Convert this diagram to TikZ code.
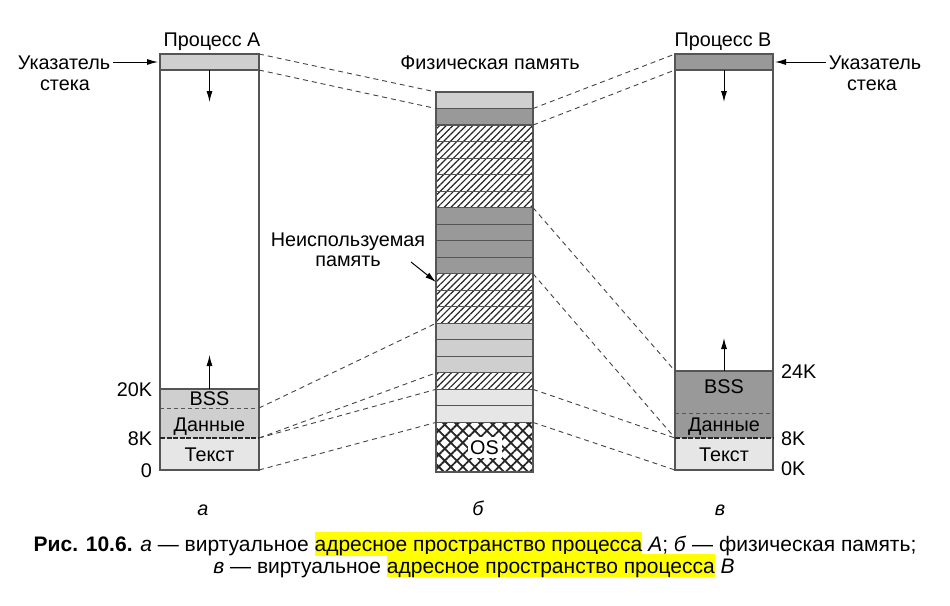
\documentclass[tikz,border=0pt]{standalone}
\usepackage{fontspec}
\setmainfont{Liberation Sans}
\usetikzlibrary{patterns.meta,arrows.meta}
\definecolor{lgray}{HTML}{CFCFCF}
\definecolor{dgray}{HTML}{999999}
\definecolor{vlgray}{HTML}{E6E6E6}
\definecolor{edgec}{HTML}{555555}
\definecolor{connc}{HTML}{444444}
\definecolor{hly}{HTML}{FFFF00}
\newcommand\hlword[1]{{\setlength{\fboxsep}{0pt}\colorbox{hly}{\rule[-1.5pt]{0pt}{21pt}#1}}}
\begin{document}
\begin{tikzpicture}[x=1pt,y=-1pt,
  every node/.style={font=\fontsize{19.8}{22}\selectfont, inner sep=0pt, outer sep=0pt},
  capfont/.style={font=\fontsize{21}{24}\selectfont},
  blk/.style={draw=edgec, line width=1.1pt, minimum width=97pt, minimum height=16.52pt, anchor=north west},
  lblk/.style={blk, fill=lgray},
  dblk/.style={blk, fill=dgray},
  tblk/.style={blk, fill=vlgray},
  hblk/.style={blk, pattern={Lines[angle=45,distance=4.7pt,line width=1.2pt]}, pattern color=black!85},
  colseg/.style={anchor=north west, inner sep=0pt},
  edgeline/.style={draw=edgec, line width=1.2pt},
  sepdash/.style={draw=edgec, line width=1pt, dash pattern=on 4pt off 3pt},
  sepdark/.style={draw=black!85, line width=1.2pt, dash pattern=on 5pt off 1.5pt},
  conn/.style={draw=connc, line width=0.9pt, dash pattern=on 5pt off 4pt},
  arr/.style={draw=black, line width=1pt, -{Latex[length=11pt,width=6pt]}}
]
\useasboundingbox (0,0) rectangle (950,605);

% ---------- Process A ----------
\node[colseg, minimum width=99pt, fill=lgray, minimum height=16pt] (astack) at (160,54) {};
\node[colseg, minimum width=99pt, fill=white, minimum height=319pt] (aspace) at (160,70) {};
\node[colseg, minimum width=99pt, fill=lgray, minimum height=19pt] (abss) at (160,389) {};
\node[colseg, minimum width=99pt, fill=lgray, minimum height=30pt] (adata) at (160,408) {};
\node[colseg, minimum width=99pt, fill=vlgray, minimum height=32pt] (atext) at (160,438) {};
\draw[edgeline] (astack.north west) rectangle (atext.south east);
\draw[edgeline] (astack.south west) -- (astack.south east);
\draw[edgeline] (abss.north west) -- (abss.north east);
\draw[sepdash] (adata.north west) -- (adata.north east);
\draw[sepdark] (atext.north west) -- (atext.north east);

\node[anchor=base] (atitle) at (212,46) {Процесс А};
\node[anchor=base] (abssl) at (209.5,405) {BSS};
\node[anchor=base] (adatal) at (209.5,431.5) {Данные};
\node[anchor=base] (atextl) at (209.5,461.5) {Текст};
\node[anchor=base east] (a20) at (152,396) {20K};
\node[anchor=base east] (a8) at (152,445) {8K};
\node[anchor=base east] (a0) at (152,477) {0};
\node[anchor=base] (aptr) at (64,69) {Указатель};
\node[anchor=base] (aptr2) at (65,90) {стека};
\node[anchor=base] (alab) at (203,515) {\itshape а};

\coordinate (adown) at (209.5,102);
\coordinate (aup) at (209.5,355);
\draw[arr] (astack.south) -- (adown);
\draw[arr] (abss.north) -- (aup);
\draw[arr, shorten <=3pt, shorten >=2pt] (aptr.east |- astack.west) -- (astack.west);

% ---------- Process B ----------
\node[colseg, minimum width=98pt, fill=dgray, minimum height=16pt] (bstack) at (675,54) {};
\node[colseg, minimum width=98pt, fill=white, minimum height=301pt] (bspace) at (675,70) {};
\node[colseg, minimum width=98pt, fill=dgray, minimum height=42pt] (bbss) at (675,371) {};
\node[colseg, minimum width=98pt, fill=dgray, minimum height=25pt] (bdata) at (675,413) {};
\node[colseg, minimum width=98pt, fill=vlgray, minimum height=32pt] (btext) at (675,438) {};
\draw[edgeline] (bstack.north west) rectangle (btext.south east);
\draw[edgeline] (bstack.south west) -- (bstack.south east);
\draw[edgeline] (bbss.north west) -- (bbss.north east);
\draw[sepdash] (bdata.north west) -- (bdata.north east);
\draw[sepdark] (btext.north west) -- (btext.north east);

\node[anchor=base] (btitle) at (723,46) {Процесс В};
\node[anchor=base] (bbssl) at (724,393) {BSS};
\node[anchor=base] (bdatal) at (724,431) {Данные};
\node[anchor=base] (btextl) at (724,461.5) {Текст};
\node[anchor=base west] (b24) at (781,378) {24K};
\node[anchor=base west] (b8) at (781,445) {8K};
\node[anchor=base west] (b0) at (781,475) {0K};
\node[anchor=base] (bptr) at (875,69) {Указатель};
\node[anchor=base] (bptr2) at (872,90) {стека};
\node[anchor=base] (blab) at (720,515) {\itshape в};

\coordinate (bdown) at (724,102);
\coordinate (bup) at (724,338);
\draw[arr] (bstack.south) -- (bdown);
\draw[arr] (bbss.north) -- (bup);
\draw[arr, shorten <=3pt, shorten >=2pt] (bptr.west |- bstack.east) -- (bstack.east);

% ---------- Physical memory ----------
\node[anchor=base] (mtitle) at (490,69) {Физическая память};
\foreach \i/\s in {1/lblk,2/dblk,3/hblk,4/hblk,5/hblk,6/hblk,7/hblk,8/dblk,9/dblk,10/dblk,11/dblk,
                   12/hblk,13/hblk,14/hblk,15/lblk,16/lblk,17/lblk,18/hblk,19/tblk,20/tblk}{
  \node[\s] (pm\i) at (436,{92+(\i-1)*16.52}) {};
}
\node[blk, minimum height=49.56pt,
  preaction={pattern={Lines[angle=45,distance=8.5pt,line width=1.8pt]}, pattern color=black!85},
  pattern={Lines[angle=-45,distance=8.5pt,line width=1.8pt]}, pattern color=black!85]
  (os) at (436,422.4) {};
\node[fill=white, minimum width=34pt, minimum height=21pt] (oslabel) at (os.center) {OS};
\node[anchor=base] (mlab) at (478,515) {\itshape б};

\node[anchor=base] (unused1) at (348,246.5) {Неиспользуемая};
\node[anchor=base] (unused2) at (348,266.5) {память};
\coordinate (ustart) at (411,262);
\draw[arr] (ustart) -- (pm12.west);

% ---------- Connectors A ----------
\draw[conn] (astack.north east) -- (pm1.north west);
\draw[conn] (astack.south east) -- (pm2.north west);
\draw[conn] (adata.north east) -- (pm15.north west);
\draw[conn] (atext.north east) -- (pm18.north west);
\draw[conn] (atext.north east) -- (pm19.north west);
\draw[conn] (atext.south east) -- (os.north west);

% ---------- Connectors B ----------
\draw[conn] (pm2.north east) -- (bstack.north west);
\draw[conn] (pm3.north east) -- (bstack.south west);
\draw[conn] (pm8.north east) -- (bbss.north west);
\draw[conn] (pm12.north east) -- (btext.north west);
\draw[conn] (pm19.north east) -- (btext.north west);
\draw[conn] (os.north east) -- (btext.south west);

% ---------- Caption ----------
\node[capfont, anchor=base] (cap1) at (475,551.5)
  {\textbf{Рис. 10.6.} \textit{а} — виртуальное \hlword{адресное пространство процесса} \textit{А}; \textit{б} — физическая память;};
\node[capfont, anchor=base] (cap2) at (474,573)
  {\textit{в} — виртуальное \hlword{адресное пространство процесса} \textit{В}};
\end{tikzpicture}
\end{document}
